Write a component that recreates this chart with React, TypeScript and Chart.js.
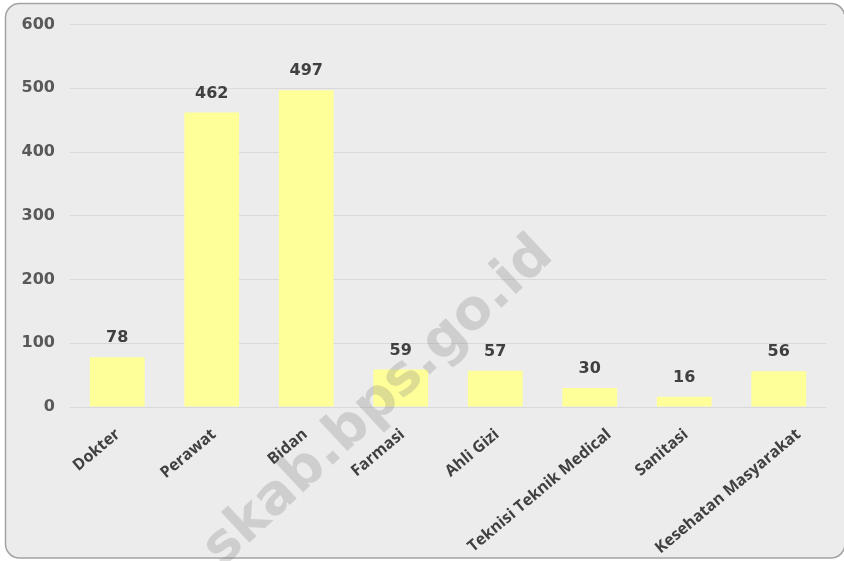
import React, { useEffect, useRef } from "react";
import { Chart, registerables } from "chart.js";
Chart.register(...registerables);

const categories = [
  "Dokter",
  "Perawat",
  "Bidan",
  "Farmasi",
  "Ahli Gizi",
  "Teknisi Teknik Medical",
  "Sanitasi",
  "Kesehatan Masyarakat",
];
const values = [78, 462, 497, 59, 57, 30, 16, 56];
const yMin = 0;
const yMax = 600;
const yStep = 100;
const watermarkText = "skab.bps.go.id";

const FONT = "'DejaVu Sans', Verdana, sans-serif";
const XFONT = "'Open Sans', 'DejaVu Sans', sans-serif";
const X_ANGLE = 40;

const backgroundPlugin = {
  id: "bgPanel",
  beforeDraw(chart: any) {
    const { ctx, width, height } = chart;
    ctx.save();
    ctx.fillStyle = "#ffffff";
    ctx.fillRect(0, 0, width, height);
    const x = 5.5, y = 3.5, w = 844 - 5.5 + 1, h = 558 - 3.5, r = 14;
    ctx.beginPath();
    ctx.moveTo(x + r, y);
    ctx.lineTo(x + w - r, y);
    ctx.arcTo(x + w, y, x + w, y + r, r);
    ctx.lineTo(x + w, y + h - r);
    ctx.arcTo(x + w, y + h, x + w - r, y + h, r);
    ctx.lineTo(x + r, y + h);
    ctx.arcTo(x, y + h, x, y + h - r, r);
    ctx.lineTo(x, y + r);
    ctx.arcTo(x, y, x + r, y, r);
    ctx.closePath();
    ctx.fillStyle = "#ececec";
    ctx.fill();
    ctx.lineWidth = 1.5;
    ctx.strokeStyle = "#a3a3a3";
    ctx.stroke();
    ctx.restore();
  },
};

const labelsPlugin = {
  id: "valueLabels",
  afterDatasetsDraw(chart: any) {
    const { ctx } = chart;
    const meta = chart.getDatasetMeta(0);
    ctx.save();
    ctx.font = `bold 16px ${FONT}`;
    ctx.fillStyle = "#404040";
    ctx.textAlign = "center";
    ctx.textBaseline = "middle";
    meta.data.forEach((bar: any, i: number) => {
      ctx.fillText(String(values[i]), bar.x, bar.y - 19);
    });
    ctx.restore();
  },
};

const xLabelsPlugin = {
  id: "xLabels",
  afterDraw(chart: any) {
    const { ctx } = chart;
    const xs = chart.scales.x;
    const top = chart.chartArea.bottom + 20;
    ctx.save();
    ctx.font = `bold 16px ${XFONT}`;
    ctx.fillStyle = "#404040";
    ctx.textAlign = "right";
    ctx.textBaseline = "alphabetic";
    categories.forEach((label, i) => {
      const L = ctx.measureText(label).width;
      const off = 0.15 * (L - 55) - 4;
      ctx.save();
      ctx.translate(xs.getPixelForTick(i) + off, top);
      ctx.rotate((-X_ANGLE * Math.PI) / 180);
      ctx.fillText(label, 0, 11.5);
      ctx.restore();
    });
    ctx.restore();
  },
};

const watermarkPlugin = {
  id: "watermark",
  afterDraw(chart: any) {
    const { ctx } = chart;
    ctx.save();
    ctx.translate(222, 568);
    ctx.rotate((-43 * Math.PI) / 180);
    ctx.font = `bold 55px ${FONT}`;
    ctx.fillStyle = "rgba(128,128,128,0.28)";
    ctx.textAlign = "left";
    ctx.textBaseline = "alphabetic";
    ctx.fillText(watermarkText, 0, 0);
    ctx.restore();
  },
};

export default function App() {
  const ref = useRef<HTMLCanvasElement | null>(null);
  useEffect(() => {
    document.body.style.margin = "0";
    if (!ref.current) return;
    const chart = new Chart(ref.current, {
      type: "bar",
      data: {
        labels: categories,
        datasets: [
          {
            data: values,
            backgroundColor: "#ffff99",
            borderWidth: 0,
            barPercentage: 0.58,
            categoryPercentage: 1,
          },
        ],
      },
      options: {
        responsive: false,
        animation: false,
        layout: { padding: { left: 22, top: 23, right: 18, bottom: 0 } },
        plugins: { legend: { display: false }, tooltip: { enabled: false } },
        scales: {
          y: {
            min: yMin,
            max: yMax,
            afterFit(scale: any) {
              scale.width = 48;
            },
            ticks: {
              stepSize: yStep,
              font: { family: FONT, size: 16, weight: "bold" },
              color: "#595959",
              padding: 15,
            },
            grid: { color: "#d9d9d9", drawTicks: false },
            border: { display: false },
          },
          x: {
            afterFit(scale: any) {
              scale.height = 154;
            },
            ticks: { display: false },
            grid: { display: false },
            border: { display: false },
          },
        },
      },
      plugins: [backgroundPlugin, labelsPlugin, xLabelsPlugin, watermarkPlugin],
    });
    return () => chart.destroy();
  }, []);
  return (
    <div style={{ width: 844, height: 561 }}>
      <canvas ref={ref} width={844} height={561} style={{ display: "block" }} />
    </div>
  );
}
